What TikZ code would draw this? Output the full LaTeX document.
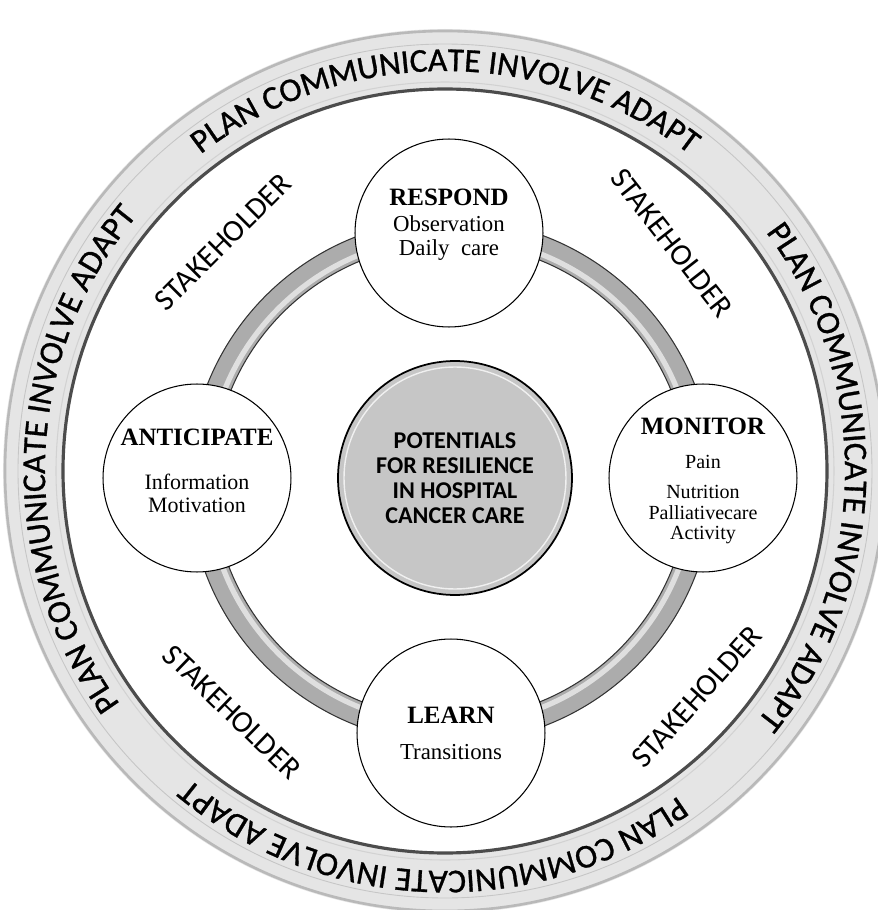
\documentclass[tikz,border=0pt]{standalone}
\usepackage{fontspec}
\setmainfont{Liberation Serif}
\newfontfamily\calib{Carlito}
\newfontfamily\calibheavy[FakeBold=0.9]{Carlito}
\usetikzlibrary{decorations.text}

\newcommand{\stagehead}[1]{{\fontsize{14.2}{14.2}\selectfont\bfseries #1}}

\begin{document}
\begin{tikzpicture}[x=0.02cm, y=0.02cm,
  stage/.style={circle, draw=black, line width=0.6pt, fill=white, minimum size=3.76cm, inner sep=0pt},
  stagetext/.style={align=center, inner sep=0pt},
  holder/.style={font=\calib\fontsize{17.5}{20}\selectfont},
  ringtext/.style={decorate, decoration={text along path, text align=center,
    text={|\calibheavy\fontsize{19}{22}\selectfont|PLAN COMMUNICATE INVOLVE ADAPT}}}]
\useasboundingbox (-445,-439) rectangle (433,471);
\coordinate (c) at (0,0);
\coordinate (ctr) at (6,-10);

% outer ring
\fill[gray!20] (c) circle [radius=442];
\draw[gray!55, line width=1.5pt] (c) circle [radius=440];
\draw[gray!45, line width=0.5pt] (c) circle [radius=427];
\fill[white] (c) circle [radius=382];
\draw[gray!35, line width=0.6pt] (c) circle [radius=389];
\draw[gray!60!black, line width=1.8pt] (c) circle [radius=382];
\foreach \a in {90,-1,-92,178}
  \path[ringtext] (c) ++(\a+42:400) arc[start angle=\a+42, end angle=\a-42, radius=400];

% inner band
\draw[gray!65, line width=13.7pt] (ctr) circle [radius=250];
\draw[gray!25, line width=3pt] (ctr) circle [radius=244];
\draw[gray!40!black, line width=0.6pt] (ctr) circle [radius=262];
\draw[gray!40!black, line width=0.6pt] (ctr) circle [radius=238];

% hub
\node[circle, draw=black, line width=1pt, fill=gray!45, minimum size=4.68cm, align=center,
  font=\calib\bfseries\fontsize{13.7}{14.2}\selectfont] (hub) at (10,-7)
  {POTENTIALS\\FOR RESILIENCE\\IN HOSPITAL\\CANCER CARE};
\draw[gray!12, line width=0.8pt] (hub.center) circle [radius=111];

% stages
\node[stage] (respond) at (4,238) {};
\node[stage] (monitor) at (258,-7) {};
\node[stage] (anticipate) at (-248,-7) {};
\node[stage] (learn) at (6,-262) {};

\node[stagetext, font=\fontsize{13}{13.7}\selectfont] (respondtxt) at (4,246)
  {\stagehead{RESPOND}\\[1pt]Observation\\Daily\ \ care};
\node[stagetext, font=\fontsize{11.4}{11.7}\selectfont] (monitortxt) at (258,-10)
  {\stagehead{MONITOR}\\[7.6pt]Pain\\[5.4pt]Nutrition\\Palliativecare\\Activity};
\node[stagetext, font=\fontsize{12.5}{13}\selectfont] (anticipatetxt) at (-248,0)
  {\stagehead{ANTICIPATE}\\[12pt]Information\\Motivation};
\node[stagetext, font=\fontsize{13}{14}\selectfont] (learntxt) at (6,-262)
  {\stagehead{LEARN}\\[6.5pt]Transitions};

% stakeholders
\node[holder, rotate=45] (sh1) at (-222,229) {STAKEHOLDER};
\node[holder, rotate=-52] (sh2) at (227,228) {STAKEHOLDER};
\node[holder, rotate=-44] (sh3) at (-213,-241) {STAKEHOLDER};
\node[holder, rotate=48] (sh4) at (252,-226) {STAKEHOLDER};
\end{tikzpicture}
\end{document}
